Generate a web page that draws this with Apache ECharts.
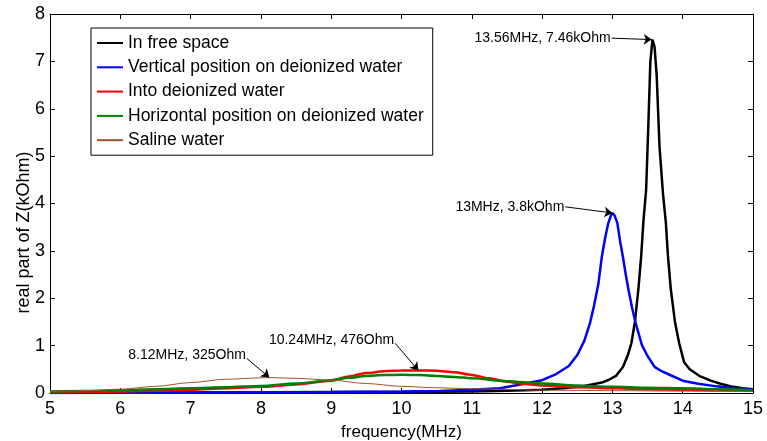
<!DOCTYPE html>
<html>
<head>
<meta charset="utf-8">
<title>real part of Z</title>
<script src="https://cdn.jsdelivr.net/npm/echarts@6/dist/echarts.min.js"></script>
<style>
    html, body { margin: 0; padding: 0; background: #fff; }
    #container { width: 767px; height: 441px; }
</style>
</head>
<body>
<div id="container"></div>
<script>
// frequency (MHz) / real part of Z (kOhm)
var seriesNames = ['In free space', 'Vertical position on deionized water', 'Into deionized water',
    'Horizontal position on deionized water', 'Saline water'];

var freqBlack = [5, 7, 9, 10, 11, 11.5, 12, 12.3, 12.6, 12.85, 12.95, 13.05, 13.15, 13.22, 13.27, 13.32, 13.37, 13.41,
    13.44, 13.48, 13.51, 13.54, 13.57, 13.6, 13.63, 13.67, 13.72, 13.76, 13.79, 13.83, 13.89, 13.95, 14.02, 14.1,
    14.25, 14.4, 14.55, 14.72, 14.85, 15];
var valBlack = [0.0, 0.01, 0.02, 0.02, 0.03, 0.05, 0.07, 0.1, 0.15, 0.22, 0.28, 0.36, 0.55, 0.8, 1.05, 1.5, 2.2, 2.9,
    3.6, 4.3, 5.6, 7.0, 7.46, 7.3, 6.7, 5.2, 4.2, 3.6, 2.9, 2.2, 1.5, 1.05, 0.65, 0.5,
    0.35, 0.26, 0.19, 0.13, 0.1, 0.08];

var freqBlue = [5, 7, 9, 10, 10.55, 11, 11.4, 11.73, 12.0, 12.2, 12.38, 12.5, 12.6, 12.68, 12.74, 12.8, 12.85, 12.9,
    12.94, 12.98, 13.0, 13.03, 13.07, 13.11, 13.15, 13.19, 13.23, 13.28, 13.33, 13.42, 13.5, 13.6, 13.7, 13.82,
    14.0, 14.2, 14.48, 14.75, 15];
var valBlue = [0, 0.01, 0.02, 0.03, 0.04, 0.07, 0.1, 0.19, 0.27, 0.4, 0.57, 0.8, 1.1, 1.47, 1.85, 2.3, 2.88, 3.3,
    3.58, 3.75, 3.8, 3.75, 3.59, 3.2, 2.87, 2.5, 2.17, 1.8, 1.48, 1.01, 0.78, 0.55, 0.46, 0.38,
    0.26, 0.2, 0.14, 0.1, 0.07];

var freqRed = [5, 5.5, 6, 6.5, 7, 7.5, 8, 8.5, 9, 9.25, 9.5, 9.75, 10, 10.25, 10.5, 10.75, 11, 11.25, 11.5, 11.75,
    12, 12.5, 13, 13.5, 14, 14.5, 15];
var valRed = [0.01, 0.02, 0.03, 0.05, 0.07, 0.1, 0.13, 0.18, 0.26, 0.35, 0.42, 0.46, 0.475, 0.476, 0.47, 0.44, 0.38,
    0.31, 0.24, 0.19, 0.16, 0.12, 0.1, 0.08, 0.07, 0.06, 0.05];

var freqGreen = [5, 5.5, 6, 6.5, 7, 7.5, 8, 8.5, 9, 9.25, 9.5, 9.75, 10, 10.25, 10.5, 10.75, 11, 11.5, 12, 12.5, 13,
    13.5, 14, 14.5, 15];
var valGreen = [0.03, 0.04, 0.06, 0.08, 0.1, 0.12, 0.15, 0.2, 0.27, 0.32, 0.36, 0.38, 0.385, 0.38, 0.36, 0.34, 0.31,
    0.25, 0.2, 0.16, 0.13, 0.11, 0.1, 0.08, 0.06];

var freqBrown = [5, 5.5, 6, 6.5, 7, 7.5, 8, 8.12, 8.5, 9, 9.5, 10, 10.5, 11, 11.5, 12, 13, 14, 15];
var valBrown = [0.03, 0.05, 0.08, 0.14, 0.22, 0.29, 0.32, 0.325, 0.31, 0.27, 0.2, 0.14, 0.11, 0.09, 0.075, 0.06, 0.05,
    0.04, 0.03];

// peak annotations: text, where the arrow starts, where it points
var annoText = ['13.56MHz, 7.46kOhm', '13MHz, 3.8kOhm', '10.24MHz, 476Ohm', '8.12MHz, 325Ohm'];
var annoFrom = [[12.99, 7.49], [12.33, 3.93], [9.91, 1.05], [7.80, 0.73]];
var annoTo = [[13.56, 7.46], [13.0, 3.8], [10.24, 0.476], [8.12, 0.325]];

var xTicks = {min: 5, max: 15, interval: 1};
var yTicks = {min: 0, max: 8, interval: 1};

var FONT = 'Liberation Sans, Arial, sans-serif';

function zip(xs, ys) {
    var out = [];
    for (var i = 0; i < xs.length; i++) {
        out.push([xs[i], ys[i]]);
    }
    return out;
}

function makeLine(name, xs, ys, color, width, smooth) {
    return {
        name: name,
        type: 'line',
        data: zip(xs, ys),
        symbol: 'none',
        smooth: smooth,
        smoothMonotone: 'x',
        color: color,
        lineStyle: {color: color, width: width},
        z: 3
    };
}

function axisBase(ticks, pos, showLabel, margin) {
    return {
        type: 'value',
        position: pos,
        min: ticks.min,
        max: ticks.max,
        interval: ticks.interval,
        splitLine: {show: false},
        axisLine: {show: true, onZero: false, lineStyle: {color: '#000', width: 1}},
        axisTick: {show: true, inside: true, length: 5, lineStyle: {color: '#000'}},
        axisLabel: {show: showLabel, color: '#000', fontSize: 18, fontFamily: FONT, margin: margin}
    };
}

var markLines = [];
var markPoints = [];
for (var i = 0; i < annoText.length; i++) {
    // the two low humps have their text sitting a bit above the arrow start
    var diagonal = annoFrom[i][1] - annoTo[i][1] > 0.2;
    markLines.push([{coord: annoFrom[i]}, {coord: annoTo[i]}]);
    markPoints.push({
        coord: annoFrom[i],
        symbol: 'circle',
        symbolSize: 0,
        label: {
            show: true,
            position: 'left',
            distance: 1,
            offset: [0, diagonal ? -3 : 0],
            formatter: annoText[i],
            color: '#000',
            fontSize: 14,
            fontFamily: FONT
        }
    });
}

var xBottom = axisBase(xTicks, 'bottom', true, 7);
xBottom.name = 'frequency(MHz)';
xBottom.nameLocation = 'middle';
xBottom.nameGap = 31;
xBottom.nameTextStyle = {color: '#000', fontSize: 17, fontFamily: FONT};

var yLeft = axisBase(yTicks, 'left', true, 5);
yLeft.name = 'real part of Z(kOhm)';
yLeft.nameLocation = 'middle';
yLeft.nameGap = 17;
yLeft.nameMoveOverlap = false;
yLeft.nameTextStyle = {color: '#000', fontSize: 18, fontFamily: FONT, padding: [0, 58, 0, 0]};

var chart = echarts.init(document.getElementById('container'), null, {renderer: 'canvas'});
chart.setOption({
    animation: false,
    backgroundColor: '#fff',
    grid: {left: 50, right: 14, top: 14, bottom: 48, containLabel: false, outerBoundsMode: 'none'},
    legend: {
        data: seriesNames,
        orient: 'vertical',
        left: 91,
        top: 28,
        itemWidth: 26,
        itemHeight: 18,
        itemGap: 6.3,
        padding: [6, 9, 6, 5],
        borderColor: '#000',
        borderWidth: 1,
        backgroundColor: '#fff',
        itemStyle: {opacity: 0},
        textStyle: {color: '#000', fontSize: 17.5, fontFamily: FONT},
        selectedMode: false
    },
    xAxis: [xBottom, axisBase(xTicks, 'top', false, 5)],
    yAxis: [yLeft, axisBase(yTicks, 'right', false, 5)],
    series: [
        makeLine(seriesNames[0], freqBlack, valBlack, '#000000', 2.5, false),
        makeLine(seriesNames[1], freqBlue, valBlue, '#0000ff', 2.5, false),
        makeLine(seriesNames[2], freqRed, valRed, '#ff0000', 2.5, 0.3),
        makeLine(seriesNames[3], freqGreen, valGreen, '#008000', 2.5, 0.3),
        makeLine(seriesNames[4], freqBrown, valBrown, '#a0522d', 1, 0.3),
        {
            name: 'annotations',
            type: 'line',
            data: [],
            silent: true,
            markLine: {
                silent: true,
                symbol: ['none', 'arrow'],
                symbolSize: 8,
                label: {show: false},
                lineStyle: {color: '#000', width: 1, type: 'solid'},
                data: markLines
            },
            markPoint: {
                silent: true,
                data: markPoints
            }
        }
    ]
});
</script>
</body>
</html>
